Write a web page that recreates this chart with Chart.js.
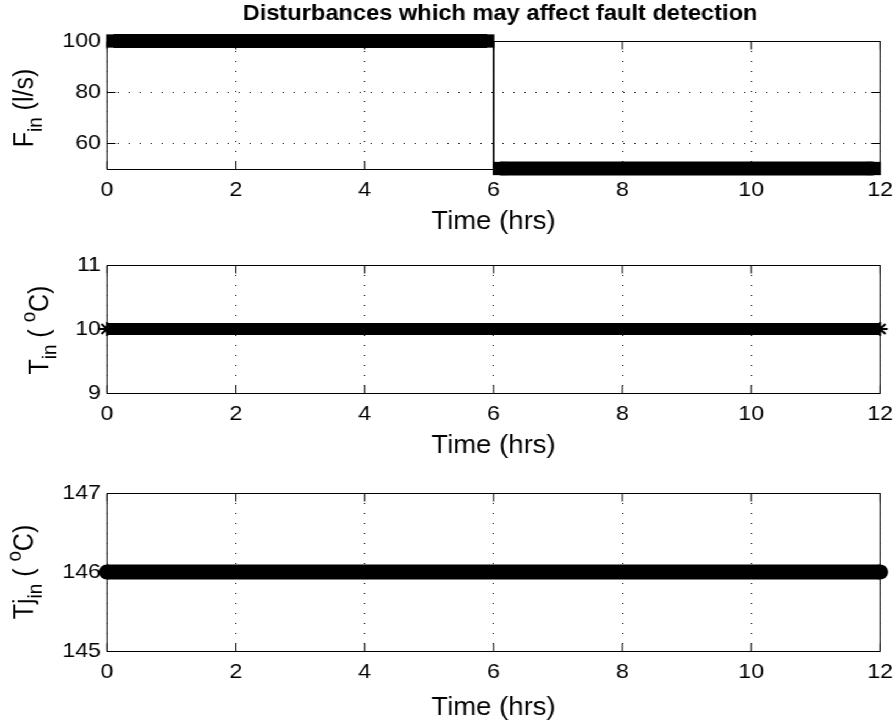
<!DOCTYPE html>
<html>
<head>
<meta charset="utf-8">
<title>Disturbances</title>
<script src="https://cdn.jsdelivr.net/npm/chart.js@4.4.1/dist/chart.umd.min.js"></script>
<style>
  html, body { margin: 0; padding: 0; background: #fff; overflow: hidden; }
  /* figure is laid out 814px wide and widened to 895px on screen */
  #fig { position: relative; width: 814px; height: 721px; overflow: hidden;
         transform: scaleX(1.0995); transform-origin: 0 0; }
  #fig canvas { position: absolute; left: 0; }
</style>
</head>
<body>
<div id="fig">
  <canvas id="finChart" width="814" height="240" style="top:0"></canvas>
  <canvas id="tinChart" width="814" height="225" style="top:240px"></canvas>
  <canvas id="tjinChart" width="814" height="266" style="top:460px"></canvas>
</div>
<script>
// time axis (hours)
const timeTicks = [0, 2, 4, 6, 8, 10, 12];

// inlet flow F_in: 100 l/s, stepping down to 50 l/s at 6 h
const finTimes = [0.1, 5.9, 6, 6.1, 11.9];
const finValues = [100, 100, null, 50, 50];
const finStepTimes = [0, 6, 6, 12];
const finStepValues = [100, 100, 50, 50];
const finTicks = [60, 80, 100];

// inlet temperature T_in
const tinTimes = [0, 12];
const tinValues = [10, 10];
const tinTicks = [9, 10, 11];

// jacket inlet temperature Tj_in
const tjinTimes = [0, 12];
const tjinValues = [146, 146];
const tjinTicks = [145, 146, 147];

const FONT = '"Liberation Sans", Arial, Helvetica, sans-serif';
const AXES_LEFT = 97.3;
const AXES_RIGHT_PAD = 13.6;

function toPoints(xs, ys) {
  return xs.map((x, i) => ({ x: x, y: ys[i] }));
}

// rotated y label with sub/superscripts
function drawRichLabel(ctx, parts, x, y, size) {
  const fontFor = p => (p.sub || p.sup ? size * 0.75 : size) + 'px ' + FONT;
  ctx.save();
  ctx.translate(x, y);
  ctx.rotate(-Math.PI / 2);
  let total = 0;
  parts.forEach(p => { ctx.font = fontFor(p); total += ctx.measureText(p.text).width; });
  let cx = -total / 2;
  ctx.fillStyle = '#000';
  ctx.textBaseline = 'alphabetic';
  parts.forEach(p => {
    ctx.font = fontFor(p);
    const dy = p.sub ? size * 0.3 : (p.sup ? -size * 0.45 : 0);
    ctx.fillText(p.text, cx, dy);
    cx += ctx.measureText(p.text).width;
  });
  ctx.restore();
}

// box around the axes, inward ticks on all four sides, y label, title
const axesFrame = {
  id: 'axesFrame',
  afterDraw(chart, args, opts) {
    const { ctx, chartArea: a, scales } = chart;
    const len = 8;
    const L = a.left, R = a.right;
    const T = Math.round(a.top) + 0.5, B = Math.round(a.bottom) + 0.5;
    ctx.save();
    ctx.strokeStyle = '#000';
    ctx.lineWidth = 1;
    ctx.beginPath();
    scales.x.ticks.forEach(t => {
      const px = scales.x.getPixelForValue(t.value);
      ctx.moveTo(px, B); ctx.lineTo(px, B - len);
      ctx.moveTo(px, T); ctx.lineTo(px, T + len);
    });
    scales.y.ticks.forEach(t => {
      const py = Math.round(scales.y.getPixelForValue(t.value)) + 0.5;
      ctx.moveTo(L, py); ctx.lineTo(L + len, py);
      ctx.moveTo(R, py); ctx.lineTo(R - len, py);
    });
    ctx.rect(L, T, R - L, B - T);
    ctx.stroke();
    if (opts.title) {
      ctx.font = 'bold 21.5px ' + FONT;
      ctx.fillStyle = '#000';
      ctx.textAlign = 'center';
      ctx.textBaseline = 'alphabetic';
      ctx.fillText(opts.title, opts.titleX, opts.titleY);
    }
    ctx.restore();
    if (opts.label) drawRichLabel(ctx, opts.label, opts.labelX, opts.labelY, 25);
  }
};

function panelOptions(cfg) {
  return {
    responsive: false,
    animation: false,
    events: [],
    layout: { padding: { top: cfg.top, left: 0, right: AXES_RIGHT_PAD, bottom: 0 } },
    plugins: {
      legend: { display: false },
      tooltip: { enabled: false },
      title: { display: false },
      axesFrame: {
        label: cfg.label, labelX: cfg.labelX, labelY: cfg.labelY,
        title: cfg.title, titleX: 454.8, titleY: 20
      }
    },
    scales: {
      x: {
        type: 'linear',
        min: 0,
        max: 12,
        afterBuildTicks: s => { s.ticks = timeTicks.map(v => ({ value: v })); },
        afterFit: s => { s.height = cfg.xHeight; s.paddingLeft = 0; s.paddingRight = 0; },
        ticks: { color: '#000', padding: 9, font: { family: FONT, size: 21 } },
        grid: { color: '#000', lineWidth: 1, drawTicks: false },
        border: { display: false, dash: [1, 9] },
        title: {
          display: true,
          text: 'Time (hrs)',
          color: '#000',
          font: { family: FONT, size: 25 },
          padding: { top: 0, bottom: cfg.titlePad }
        }
      },
      y: {
        type: 'linear',
        min: cfg.yMin,
        max: cfg.yMax,
        afterBuildTicks: s => { s.ticks = cfg.yTicks.map(v => ({ value: v })); },
        afterFit: s => { s.width = AXES_LEFT; s.paddingTop = 0; s.paddingBottom = 0; },
        ticks: { color: '#000', padding: 5.5, font: { family: FONT, size: 21 } },
        grid: { color: '#000', lineWidth: 1, drawTicks: false },
        border: { display: false, dash: [1, 9] }
      }
    }
  };
}

Chart.register(axesFrame);

new Chart(document.getElementById('finChart'), {
  type: 'line',
  data: {
    datasets: [
      {
        data: toPoints(finStepTimes, finStepValues),
        borderColor: '#000',
        borderWidth: 1,
        pointRadius: 0,
        clip: false
      },
      {
        data: toPoints(finTimes, finValues),
        borderColor: '#000',
        borderWidth: 14,
        borderCapStyle: 'butt',
        pointStyle: 'rect',
        pointRadius: 9.4,
        pointBackgroundColor: '#000',
        pointBorderColor: '#000',
        pointBorderWidth: 0,
        clip: false
      }
    ]
  },
  options: panelOptions({
    top: 41, xHeight: 71.5, titlePad: 3,
    yMin: 50, yMax: 100, yTicks: finTicks,
    title: 'Disturbances which may affect fault detection',
    label: [{ text: 'F' }, { text: 'in', sub: true }, { text: ' (l/s)' }],
    labelX: 30, labelY: 108
  })
});

new Chart(document.getElementById('tinChart'), {
  type: 'line',
  data: {
    datasets: [{
      data: toPoints(tinTimes, tinValues),
      borderColor: '#000',
      borderWidth: 12,
      borderCapStyle: 'butt',
      pointStyle: 'star',
      pointRadius: 7,
      pointBorderColor: '#000',
      pointBorderWidth: 2,
      clip: false
    }]
  },
  options: panelOptions({
    top: 25, xHeight: 72, titlePad: 4,
    yMin: 9, yMax: 11, yTicks: tinTicks,
    label: [{ text: 'T' }, { text: 'in', sub: true }, { text: ' ( ' }, { text: 'o', sup: true }, { text: 'C)' }],
    labelX: 43.5, labelY: 90
  })
});

new Chart(document.getElementById('tjinChart'), {
  type: 'line',
  data: {
    datasets: [{
      data: toPoints(tjinTimes, tjinValues),
      borderColor: '#000',
      borderWidth: 15,
      borderCapStyle: 'butt',
      pointStyle: 'circle',
      pointRadius: 7.5,
      pointBackgroundColor: '#000',
      pointBorderColor: '#000',
      pointBorderWidth: 0,
      clip: false
    }]
  },
  options: panelOptions({
    top: 33, xHeight: 75, titlePad: 3,
    yMin: 145, yMax: 147, yTicks: tjinTicks,
    label: [{ text: 'Tj' }, { text: 'in', sub: true }, { text: ' ( ' }, { text: 'o', sup: true }, { text: 'C)' }],
    labelX: 30, labelY: 112
  })
});
</script>
</body>
</html>
